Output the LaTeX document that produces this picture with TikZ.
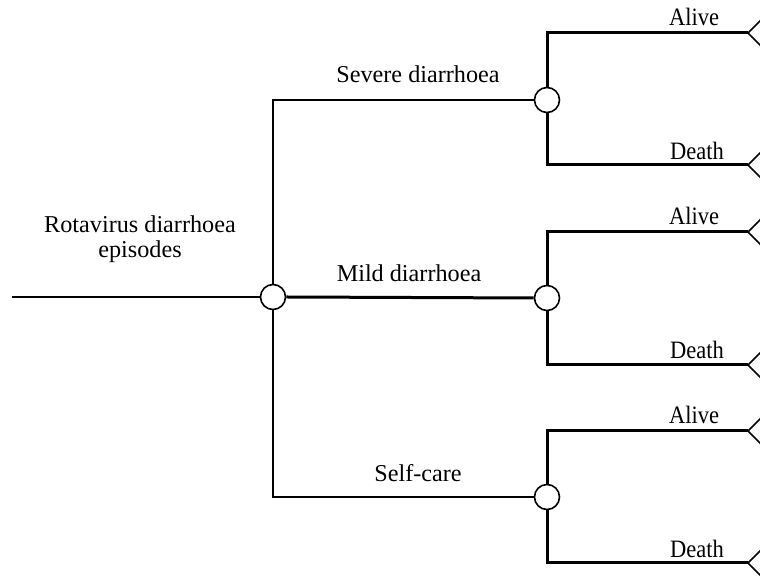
\documentclass[tikz,border=0pt]{standalone}
\usepackage{fontspec}
\setmainfont{Liberation Serif}
\usetikzlibrary{positioning}
\tikzset{
  chance/.style={circle,draw,line width=0.8pt,fill=white,minimum size=12.5pt,inner sep=0pt},
  branch/.style={line width=1pt},
  outcome/.style={line width=1.5pt},
  lbl/.style={anchor=base,inner sep=0pt,font=\fontsize{12.1}{12.5}\selectfont},
  endlbl/.style={anchor=base,inner sep=0pt,font=\fontsize{12.5}{14}\selectfont\addfontfeature{FakeStretch=0.9}},
}

\begin{document}
\begin{tikzpicture}[x=0.5pt,y=-0.5pt]
    \useasboundingbox (0,0) rectangle (760,581);

    \coordinate (start) at (12,297);

    \node[chance] (root) at (273,297) {};
    \node[chance] (sev) at (547,100) {};
    \node[chance] (mild) at (547,298) {};
    \node[chance] (self) at (547,497) {};

    % terminal points
    \coordinate (sevA) at (748,33);
    \coordinate (sevD) at (748,165);
    \coordinate (mildA) at (748,232);
    \coordinate (mildD) at (748,365);
    \coordinate (selfA) at (748,431);
    \coordinate (selfD) at (748,563);

    \draw[branch] (start) -- (root);
    \draw[branch] (root.north) |- (sev.west);
    \draw[outcome] (root.east) -- (mild.west);
    \draw[branch] (root.south) |- (self.west);

    \draw[outcome] (sev.north) |- (sevA);
    \draw[outcome] (sev.south) |- (sevD);
    \draw[outcome] (mild.north) |- (mildA);
    \draw[outcome] (mild.south) |- (mildD);
    \draw[outcome] (self.north) |- (selfA);
    \draw[outcome] (self.south) |- (selfD);

    \foreach \t in {sevA,sevD,mildA,mildD,selfA,selfD} {
        \draw[line width=0.8pt] (\t) -- ++(16,-16) (\t) -- ++(16,16);
    }

    \node[lbl,align=center] (rota) at (140,258) {Rotavirus diarrhoea\\episodes};
    \node[lbl] (sevL) at (418,83) {Severe diarrhoea};
    \node[lbl] (mildL) at (409,282) {Mild diarrhoea};
    \node[lbl] (selfL) at (418,482) {Self-care};

    \node[endlbl] (sevAL) at (694,26) {Alive};
    \node[endlbl] (sevDL) at (697,160) {Death};
    \node[endlbl] (mildAL) at (694,225) {Alive};
    \node[endlbl] (mildDL) at (697,359) {Death};
    \node[endlbl] (selfAL) at (694,424) {Alive};
    \node[endlbl] (selfDL) at (697,558) {Death};
\end{tikzpicture}
\end{document}
